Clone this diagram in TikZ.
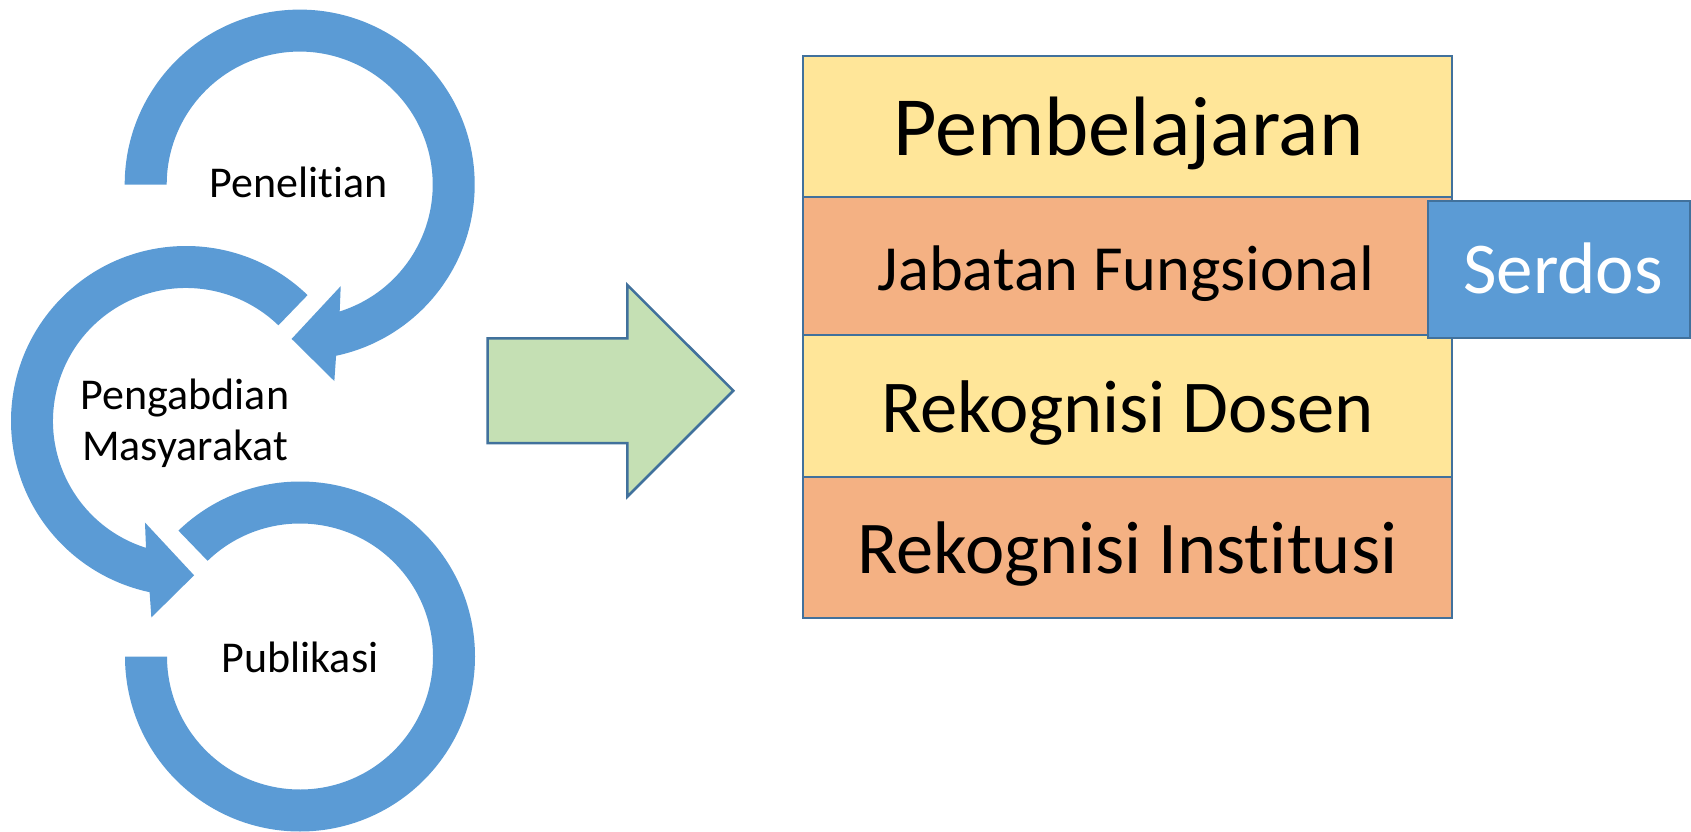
\documentclass[tikz,border=0pt]{standalone}
\usepackage{fontspec}
\setmainfont{Carlito}[RawFeature={-liga;-clig;-calt;-rlig}]
\definecolor{ringblue}{HTML}{5B9BD5}
\definecolor{edgeblue}{HTML}{41719C}
\definecolor{rowyellow}{HTML}{FFE699}
\definecolor{roworange}{HTML}{F4B183}
\definecolor{arrowgreen}{HTML}{C5E0B4}
\begin{document}
\begin{tikzpicture}[x=1pt,y=1pt,
  rowbox/.style={draw=edgeblue, line width=2pt, minimum width=648.4pt, anchor=north west, inner sep=0, outer sep=0},
  ringlabel/.style={font=\fontsize{44}{51}\selectfont, anchor=base, inner sep=0, align=center},
  boxtext/.style={anchor=base, inner sep=0}]
\useasboundingbox (0,0) rectangle (1691,831);
% ring centres
\coordinate (c1) at (299.7,646.4);
\coordinate (c2) at (186,410);
\coordinate (c3) at (300,174.5);
% bottom ring (no head)
\fill[ringblue] ([shift={(180:175)}]c3) arc[start angle=180,end angle=494,radius=175]
  -- ([shift={(134:133)}]c3) arc[start angle=134,end angle=-180,radius=133] -- cycle;
% middle ring with head
\fill[ringblue] ([shift={(46:175)}]c2) arc[start angle=46,end angle=258,radius=175]
  -- ([shift={(260:199.5)}]c2) -- ([shift={(273:154.5)}]c2) -- ([shift={(248:109.5)}]c2)
  -- ([shift={(252.5:133)}]c2) arc[start angle=252.5,end angle=46,radius=133] -- cycle;
% top ring with head
\fill[ringblue] ([shift={(180:175)}]c1) arc[start angle=180,end angle=-78,radius=175]
  -- ([shift={(-80:199.5)}]c1) -- ([shift={(-93:154.5)}]c1) -- ([shift={(-68:109.5)}]c1)
  -- ([shift={(-72.5:133)}]c1) arc[start angle=-72.5,end angle=180,radius=133] -- cycle;
% ring labels
\node[ringlabel] (penelitian) at (298.5,633) {Penelitian};
\node[ringlabel] (pengabdian) at (185,371) {Pengabdian\\Masyarakat};
\node[ringlabel] (publikasi) at (300,158.3) {Publikasi};
% big green arrow
\filldraw[fill=arrowgreen, draw=edgeblue, line width=2.5pt, line join=miter]
  (487.7,492.7) -- (627.3,492.7) -- (627.3,546) -- (733.3,440.3) -- (627.3,334.3)
  -- (627.3,388) -- (487.7,388) -- cycle;
% stacked rows
\node[rowbox, fill=rowyellow, minimum height=141.6pt] (r1) at (803.3,775.3) {};
\node[rowbox, fill=roworange, minimum height=138pt] (r2) at (r1.south west) {};
\node[rowbox, fill=rowyellow, minimum height=141.4pt] (r3) at (r2.south west) {};
\node[rowbox, fill=roworange, minimum height=141.6pt] (r4) at (r3.south west) {};
% serdos box
\node[draw=edgeblue, line width=2pt, fill=ringblue, minimum width=261.7pt, minimum height=137pt,
  anchor=north west, inner sep=0, outer sep=0] (serdosbox) at (1428.3,630.3) {};
% row texts
\node[boxtext, font=\fontsize{84.3}{100}\selectfont] (t1) at (1128.3,675) {Pembelajaran};
\node[boxtext, font=\fontsize{64.4}{80}\selectfont] (t2) at (1126,540.3) {Jabatan Fungsional};
\node[boxtext, font=\fontsize{74.6}{90}\selectfont] (t3) at (1127.5,398.3) {Rekognisi Dosen};
\node[boxtext, font=\fontsize{74.5}{90}\selectfont] (t4) at (1127.5,257.7) {Rekognisi Institusi};
\node[boxtext, font=\fontsize{73}{85}\selectfont, text=white] (t5) at (1563,537.7) {Serdos};
\end{tikzpicture}
\end{document}
